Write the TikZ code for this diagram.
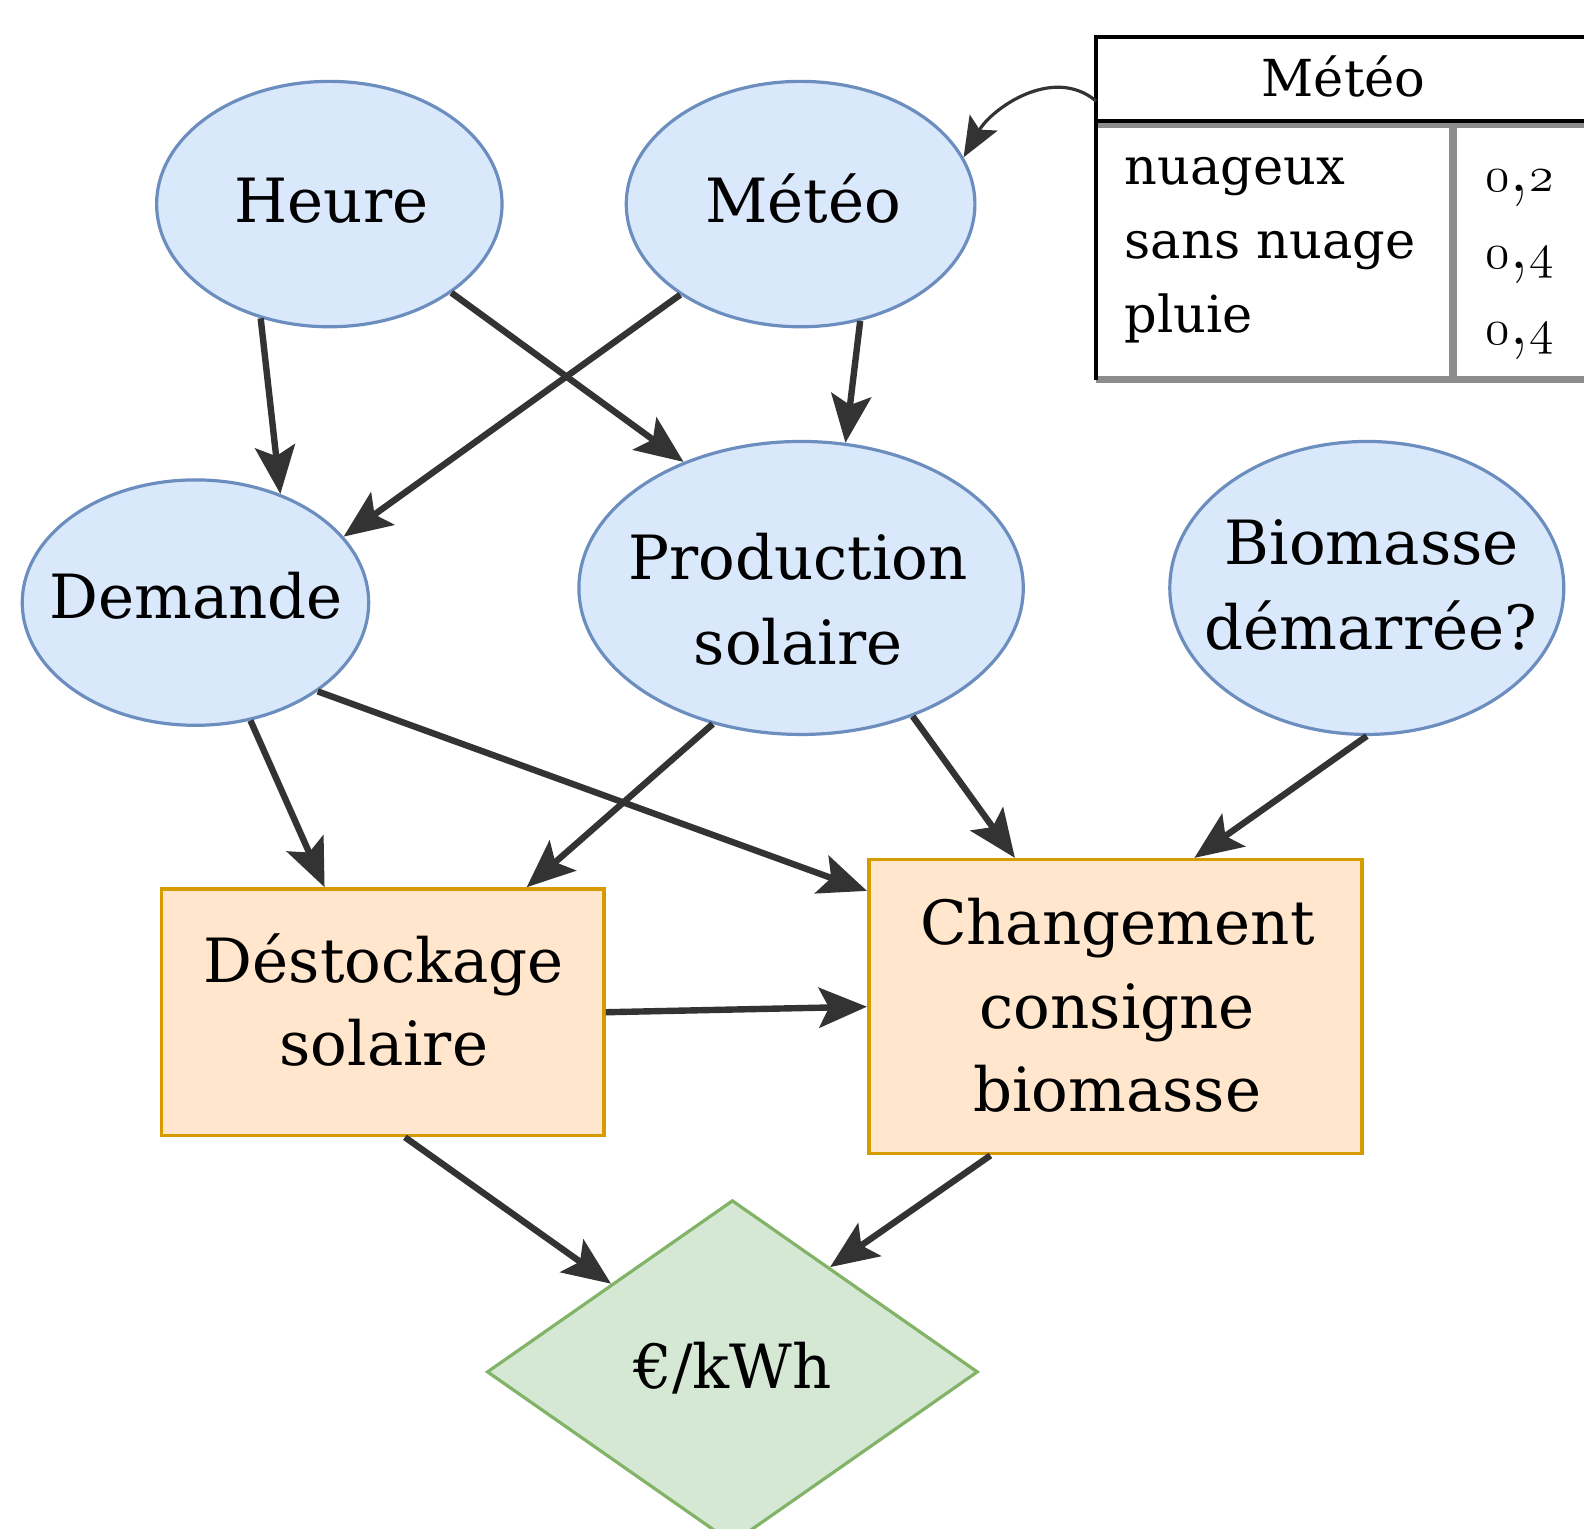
\documentclass[tikz,border=0pt]{standalone}
\usepackage{fontspec}
\setmainfont{DejaVu Serif}
\newfontfamily\lmfont{Latin Modern Roman}
\usetikzlibrary{shapes.geometric,arrows.meta}
\definecolor{ellfill}{HTML}{DAE8FC}
\definecolor{elldraw}{HTML}{6C8EBF}
\definecolor{boxfill}{HTML}{FFE6CC}
\definecolor{boxdraw}{HTML}{D79B00}
\definecolor{dmfill}{HTML}{D5E8D4}
\definecolor{dmdraw}{HTML}{82B366}
\definecolor{arr}{HTML}{333333}
\definecolor{tabgray}{HTML}{8C8C8C}
\newcommand\osnum[1]{{\usefont{OML}{lmm}{m}{it}#1}}
\newcommand\osval[2]{\osnum{#1}{\lmfont ,}\osnum{#2}}
\tikzset{
  ell/.style={ellipse, fill=ellfill, draw=elldraw, line width=1.6pt, inner sep=0pt},
  box/.style={rectangle, fill=boxfill, draw=boxdraw, line width=1.8pt, inner sep=0pt},
  dia/.style={diamond, fill=dmfill, draw=dmdraw, line width=1.6pt, inner sep=0pt, aspect=1.43},
  lbl/.style={inner sep=0pt, anchor=base, font=\fontsize{30.5}{42}\selectfont},
  link/.style={draw=arr, line width=3.2pt, -{Stealth[length=24pt,width=20pt,inset=5pt]}},
  tabtxt/.style={font=\fontsize{25.5}{36}\selectfont, inner sep=0pt},
  tabnum/.style={font=\fontsize{39}{36}\selectfont, inner sep=0pt, text height=17pt, text depth=7pt}
}
\begin{document}
\begin{tikzpicture}[x=0.5051pt,y=-0.5051pt]
\useasboundingbox (0,0) rectangle (1568,1513);
\clip (0,0) rectangle (1568,1513);
% shapes
\node[ell, minimum width=172.7pt, minimum height=122.7pt] (heure) at (326,202) {};
\node[ell, minimum width=174.3pt, minimum height=122.7pt] (meteo) at (792.5,202) {};
\node[ell, minimum width=173.2pt, minimum height=122.7pt] (demande) at (193.5,596.5) {};
\node[ell, minimum width=222.2pt, minimum height=146.5pt] (prod) at (793,582) {};
\node[ell, minimum width=197pt, minimum height=146.5pt] (bio) at (1353,582) {};
\node[box, minimum width=221.2pt, minimum height=123.2pt] (destock) at (379,1002) {};
\node[box, minimum width=246.5pt, minimum height=147pt] (chg) at (1104,996.5) {};
\node[dia, minimum width=245.5pt, minimum height=171.7pt] (eur) at (725,1358) {};
% labels (one node per printed line, placed on its baseline)
\node[lbl] (heure-t) at (328,220) {Heure};
\node[lbl] (meteo-t) at (795,220) {Météo};
\node[lbl] (demande-t) at (194,612) {Demande};
\node[lbl] (prod-t1) at (790,574) {Production};
\node[lbl] (prod-t2) at (790,658) {solaire};
\node[lbl] (bio-t1) at (1358,559) {Biomasse};
\node[lbl] (bio-t2) at (1357,643) {démarrée?};
\node[lbl] (destock-t1) at (380,973) {Déstockage};
\node[lbl] (destock-t2) at (380,1055) {solaire};
\node[lbl] (chg-t1) at (1106,935) {Changement};
\node[lbl] (chg-t2) at (1106,1018) {consigne};
\node[lbl] (chg-t3) at (1106,1100) {biomasse};
\node[lbl] (eur-t) at (725,1374) {€/kWh};
% table
\draw[tabgray, line width=4pt] (1438,122) -- (1438,376);
\draw[tabgray, line width=3.5pt] (1085,376) -- (1568,376);
\draw[tabgray, line width=3pt] (1085,124) -- (1568,124);
\draw[black, line width=2pt] (1085,120) -- (1568,120);
\draw[black, line width=2pt] (1568,37) -- (1085,37) -- (1085,376);
\node[tabtxt, anchor=base] (thead) at (1330,96) {Météo};
\node[tabtxt, anchor=base west] (t1) at (1113,183) {nuageux};
\node[tabtxt, anchor=base west] (t2) at (1113,256) {sans nuage};
\node[tabtxt, anchor=base west] (t3) at (1113,329) {pluie};
\node[tabnum, anchor=base west] (v1) at (1470,190) {\osval{0}{2}};
\node[tabnum, anchor=base west] (v2) at (1470,266) {\osval{0}{4}};
\node[tabnum, anchor=base west] (v3) at (1470,341) {\osval{0}{4}};
\coordinate (tabstart) at (1085,100);
% connectors
\draw[link] (heure.239) -- (demande.52);
\draw[link] (heure.324) -- (prod.133);
\draw[link] (meteo.217) -- (demande.24);
\draw[link] (meteo.297) -- (prod.73);
\draw[link] (demande.295) -- (destock.115);
\draw[link] (demande.324) -- (chg.155.6);
\draw[link] (prod.237) -- (destock.41);
\draw[link] (prod.311.5) -- (chg.124.5);
\draw[link] (bio.south) -- (chg.62.6);
\draw[link] (destock.east) -- (chg.west);
\draw[link] (destock.280.7) -- (eur.144);
\draw[link] (chg.230.2) -- (eur.47);
\draw[draw=arr, line width=1.6pt, -{Stealth[length=20pt,width=16pt,inset=4pt]}] (tabstart) to[out=140, in=60] (meteo.16);
\end{tikzpicture}
\end{document}
